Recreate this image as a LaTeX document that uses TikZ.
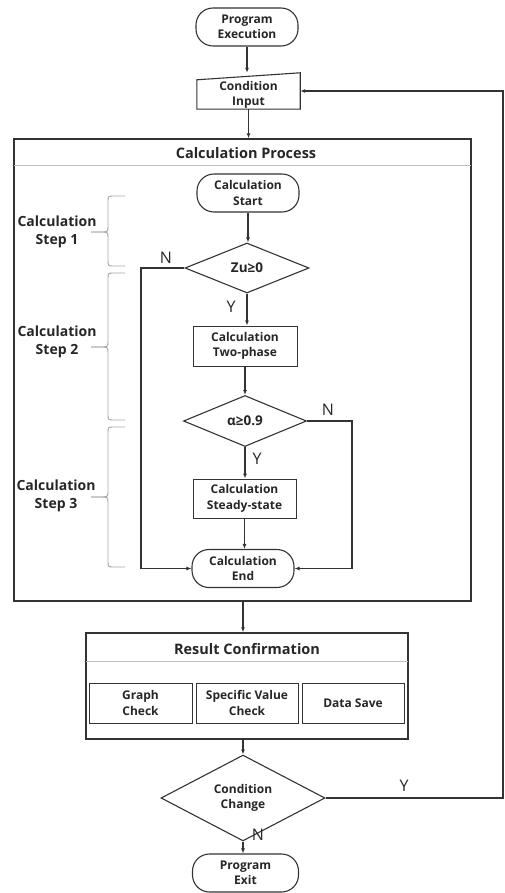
\documentclass[tikz,border=0pt]{standalone}
\usepackage{fontspec}
\setmainfont{Open Sans}
\usetikzlibrary{arrows.meta,shapes.geometric}
\begin{document}
\begin{tikzpicture}[x=1pt,y=-1pt,
  every node/.style={font=\fontsize{12}{15.5}\selectfont\bfseries, align=center, inner sep=0pt, text=black!85},
  ln/.style={line width=1.1pt, draw=black!80},
  arr/.style={ln, -{Latex[length=5pt,width=4pt]}},
  term/.style={draw=black!80, line width=1.1pt, rounded corners=17pt, minimum width=102pt, minimum height=38pt},
  proc/.style={draw=black!80, line width=1pt, minimum width=104pt, minimum height=40pt},
  dec/.style={diamond, draw=black!80, line width=1.1pt},
  cond/.style={font=\fontsize{13.5}{16}\selectfont\bfseries},
  cont/.style={draw=black!80, line width=1.4pt},
  sep/.style={draw=black!25, line width=1.5pt},
  lab/.style={font=\fontsize{16}{16}\selectfont},
  brc/.style={draw=black!35, line width=0.9pt},
  steplab/.style={font=\fontsize{14}{18}\selectfont\bfseries},
  ttl/.style={font=\fontsize{14.5}{16}\selectfont\bfseries},
]
\useasboundingbox (0,0) rectangle (505,893);

% top
\node[term] (pe) at (247,27) {Program\\Execution};
\node[minimum width=103pt, minimum height=36pt] (ci) at (248.5,91) {};
\draw[ln] (ci.south west) -- (ci.south east) -- (ci.north east) -- ([yshift=-7pt]ci.north west) -- cycle;
\node (citext) at (248.5,95) {Condition\\Input};
\draw[arr] (pe.south) -- (pe.south |- ci.north);

% calculation process container
\node[cont, minimum width=457pt, minimum height=462pt] (cp) at (242.5,370) {};
\draw[sep] ([yshift=-27pt,xshift=1pt]cp.north west) -- ([yshift=-27pt,xshift=-1pt]cp.north east);
\node[ttl] (cpt) at (246,153) {Calculation Process};
\draw[arr] (ci.south -| citext) -- (citext |- cp.north);

\node[term] (cs) at (248,193) {Calculation\\Start};
\node[dec, cond, minimum width=124pt, minimum height=50pt] (d1) at (247,268) {Zu≥0};
\node[proc] (tp) at (245,346) {Calculation\\Two-phase};
\node[dec, cond, minimum width=123pt, minimum height=51pt] (d2) at (245,421) {α≥0.9};
\node[proc, minimum width=103pt, minimum height=39pt] (ss) at (244.5,498.5) {Calculation\\Steady-state};
\node[term] (ce) at (243,568.5) {Calculation\\End};

\draw[arr] (cs.south) -- (cs.south |- d1.north);
\draw[arr] (d1.south) -- (d1.south |- tp.north);
\draw[arr] (tp.south) -- (tp.south |- d2.north);
\draw[arr] (d2.south) -- (d2.south |- ss.north);
\draw[arr] (ss.south) -- (ss.south |- ce.north);

\coordinate (nl) at (141,268);
\coordinate (nr) at (352,421);
\draw[arr] (d1.west) -- (nl) |- (ce.west);
\draw[arr] (d2.east) -- (nr) |- (ce.east);

\node[lab] (n1) at (166,258) {N};
\node[lab] (y1) at (231,307) {Y};
\node[lab] (n2) at (328,410) {N};
\node[lab] (y2) at (257,459) {Y};

% braces
\draw[brc] (125,196) -- (114,196) .. controls (108,196) .. (108,202) -- (108,226) .. controls (108,232) .. (100,232) -- (91,232);
\draw[brc] (91,232) -- (100,232) .. controls (108,232) .. (108,238) -- (108,260) .. controls (108,266) .. (114,266) -- (125,266);
\node[steplab] (s1) at (57,232) {Calculation\\Step 1};

\draw[brc] (125,273) -- (114,273) .. controls (108,273) .. (108,279) -- (108,341) .. controls (108,347) .. (100,347) -- (91,347);
\draw[brc] (91,347) -- (100,347) .. controls (108,347) .. (108,353) -- (108,414) .. controls (108,420) .. (114,420) -- (125,420);
\node[steplab] (s2) at (57,342) {Calculation\\Step 2};

\draw[brc] (125,427) -- (114,427) .. controls (108,427) .. (108,433) -- (108,491) .. controls (108,497) .. (100,497) -- (91,497);
\draw[brc] (91,497) -- (100,497) .. controls (108,497) .. (108,503) -- (108,561) .. controls (108,567) .. (114,567) -- (125,567);
\node[steplab] (s3) at (56,496) {Calculation\\Step 3};

% result confirmation
\node[cont, minimum width=322pt, minimum height=106pt] (rc) at (247,686) {};
\draw[sep] ([yshift=-29pt,xshift=1pt]rc.north west) -- ([yshift=-29pt,xshift=-1pt]rc.north east);
\node[ttl] (rct) at (247,649) {Result Confirmation};
\node[proc, minimum width=103pt] (gc) at (140.5,703) {Graph\\Check};
\node[proc, minimum width=102pt] (sv) at (247,703) {Specific Value\\Check};
\node[proc, minimum width=102pt] (ds) at (353,703) {Data Save};
\draw[arr] (ce.south |- cp.south) -- (ce.south |- rc.north);

% condition change
\node[dec, minimum width=164pt, minimum height=52pt] (cc) at (243,798) {Condition\\Change};
\draw[arr] (cc.north |- rc.south) -- (cc.north);
\node[term, minimum width=106pt] (px) at (245.5,873) {Program\\Exit};
\draw[arr] (cc.south) -- (cc.south |- px.north);
\node[lab] (n3) at (258,835) {N};
\node[lab] (y3) at (404,786) {Y};

\coordinate (fb) at (503,91);
\draw[arr] (cc.east) -| (fb) -- (ci.east);
\end{tikzpicture}
\end{document}
